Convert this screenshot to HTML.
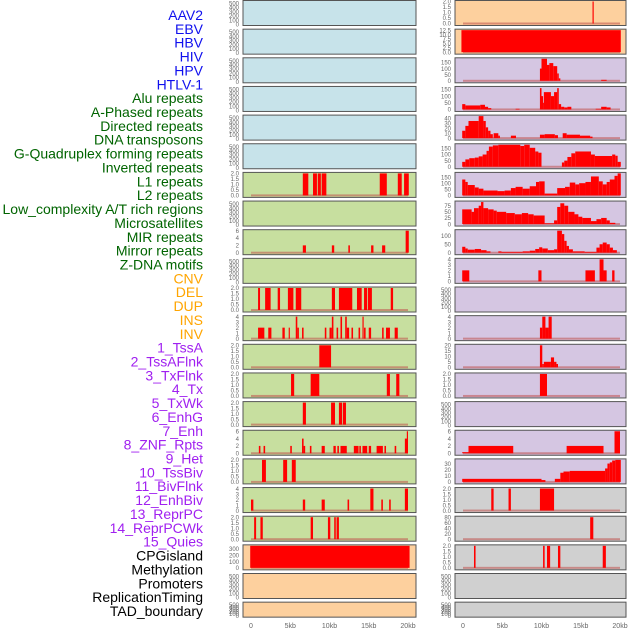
<!DOCTYPE html>
<html><head><meta charset="utf-8"><style>
body{margin:0;background:#fff;width:630px;height:630px;overflow:hidden}
svg{display:block;font-family:"Liberation Sans",sans-serif}
</style></head><body>
<svg id="chart" width="630" height="630" viewBox="0 0 630 630"></svg>
<script>
const labels=["AAV2","EBV","HBV","HIV","HPV","HTLV-1","Alu repeats","A-Phased repeats","Directed repeats","DNA transposons","G-Quadruplex forming repeats","Inverted repeats","L1 repeats","L2 repeats","Low_complexity A/T rich regions","Microsatellites","MIR repeats","Mirror repeats","Z-DNA motifs","CNV","DEL","DUP","INS","INV","1_TssA","2_TssAFlnk","3_TxFlnk","4_Tx","5_TxWk","6_EnhG","7_Enh","8_ZNF_Rpts","9_Het","10_TssBiv","11_BivFlnk","12_EnhBiv","13_ReprPC","14_ReprPCWk","15_Quies","CPGisland","Methylation","Promoters","ReplicationTiming","TAD_boundary"];
const xTicks=[0,5,10,15,20];
const xTickLabels=["0","5kb","10kb","15kb","20kb"];
const emptyTicks=[0,100,200,300,400,500];
// left column: [ymax, ticks, segments [startKb,endKb,value]]
const leftYmax=[0,0,0,0,0,0,2,0,6,0,2,4,2,2,2,6,2,4,2,350,0,0];
const leftTicks=[[],[],[],[],[],[],[0,0.5,1,1.5,2],[],[0,2,4,6],[],[0,0.5,1,1.5,2],[0,1,2,3,4],[0,0.5,1,1.5,2],[0,0.5,1,1.5,2],[0,0.5,1,1.5,2],[0,2,4,6],[0,0.5,1,1.5,2],[0,1,2,3,4],[0,0.5,1,1.5,2],[0,100,200,300],[],[]];
const leftSegs=[[],[],[],[],[],[],
[[6.6,7.3,2],[7.9,8.4,2],[8.5,8.9,2],[9.0,9.6,2],[16.4,17.3,2],[18.7,19.2,2],[19.5,20.1,2]],
[],
[[6.6,7.0,2],[10.3,10.6,2],[12.4,12.6,2],[15.3,15.6,2],[16.7,17.1,2],[19.7,20.1,6]],
[],
[[0.9,1.15,2],[1.8,2.5,2],[3.4,3.7,2],[4.7,5.4,2],[5.7,6.4,2],[10.3,10.7,2],[11.2,12.9,2],[13.5,14.1,2],[14.4,14.8,2],[14.9,15.4,2],[17.8,18.1,2]],
[[0.9,1.7,2],[2.2,2.6,2],[4.0,4.3,2],[4.8,4.95,2],[5.7,5.9,4],[5.9,6.1,2],[6.5,6.7,2],[9.4,9.6,2],[10.0,10.3,2],[10.3,10.5,4],[10.9,11.1,2],[11.4,11.6,4],[12.0,12.2,4],[12.2,12.5,2],[12.8,13.0,2],[13.7,13.9,2],[14.2,14.35,4],[14.4,14.6,2],[15.0,15.3,2],[16.7,16.9,2],[17.2,17.7,2],[18.3,18.7,2]],
[[8.7,10.2,2]],
[[5.1,5.5,2],[7.6,8.7,2],[17.3,17.7,2],[18.5,18.9,2]],
[[6.6,7.0,2],[10.2,10.7,2],[11.2,11.6,2],[11.7,12.1,2]],
[[1.0,1.2,2],[1.6,1.8,2],[5.0,5.2,2],[6.5,6.7,4],[6.7,6.9,2],[7.5,7.7,2],[9.0,9.4,2],[10.5,10.8,2],[11.0,11.2,2],[11.4,12.2,2],[13.1,13.7,2],[13.8,14.0,2],[14.2,14.8,2],[15.0,15.3,2],[16.0,16.8,2],[17.0,17.2,2],[18.3,18.5,2],[19.6,19.9,4],[19.85,20.0,6]],
[[1.4,1.9,2],[4.1,4.6,2],[5.2,5.7,2]],
[[0.0,0.3,2],[6.6,6.9,2],[9.0,9.4,2],[12.3,12.5,2],[15.2,15.6,4],[16.6,16.8,2],[17.6,17.8,2],[19.6,20.0,4]],
[[0.4,0.65,2],[1.2,1.5,2],[7.6,7.9,2],[9.8,10.1,2],[10.6,10.8,2],[10.9,11.2,2]],
[[-0.1,20.2,350]],
[],[]];
const rightYmax=[2,12.5,180,165,45,180,180,90,130,4,0,4,20,2,0,6,36,2,80,2,0,0];
const rightTicks=[[0,0.5,1,1.5,2],[0,2.5,5,7.5,10,12.5],[0,50,100,150],[0,50,100,150],[0,10,20,30,40],[0,50,100,150],[0,50,100,150],[0,25,50,75],[0,50,100],[0,1,2,3,4],[],[0,1,2,3,4],[0,5,10,15,20],[0,0.5,1,1.5,2],[],[0,2,4,6],[0,10,20,30],[0,0.5,1,1.5,2],[0,20,40,60,80],[0,0.5,1,1.5,2],[],[]];
const rightSegs=[
[[16.5,16.65,2]],
[[-0.2,20.1,12.5]],
[[9.8,10.0,100],[10.0,10.7,180],[10.7,11.0,130],[11.0,11.5,145],[11.5,12.0,120],[12.0,12.2,60],[12.2,12.4,20],[17.6,18.3,8]],
[[-0.1,0.3,40],[0.3,2.2,30],[2.2,2.8,35],[2.8,3.2,20],[3.2,3.6,10],[6.7,7.2,5],[9.8,10.0,160],[10.0,10.2,100],[10.2,10.3,50],[10.3,11.2,130],[11.2,11.6,100],[11.6,12.0,130],[12.0,12.2,160],[12.2,12.5,40],[12.5,12.9,20],[12.9,13.3,15],[13.3,13.8,20],[16.9,17.6,5],[17.6,18.3,20],[18.3,18.8,15]],
[[-0.1,0.3,15],[0.3,0.7,25],[0.7,2.0,35],[2.0,2.6,45],[2.6,2.9,35],[2.9,3.2,22],[3.2,3.5,15],[3.5,3.8,8],[3.9,4.5,10],[4.5,4.7,5],[6.1,6.75,5],[9.8,10.4,7],[10.4,11.7,8],[11.7,12.1,6],[12.7,13.2,10],[13.2,14.9,7],[14.9,16.2,5],[16.2,16.5,3]],
[[-0.1,0.3,40],[0.3,0.8,60],[0.8,1.5,70],[1.5,2.0,75],[2.0,2.5,85],[2.5,3.0,100],[3.0,3.3,130],[3.3,3.8,165],[3.8,4.5,175],[4.5,7.3,180],[7.3,7.8,170],[7.8,8.5,180],[8.5,9.2,155],[9.2,9.6,125],[9.6,10.0,115],[12.6,12.9,35],[12.9,13.3,50],[13.3,13.8,80],[13.8,14.3,110],[14.3,16.3,125],[16.3,16.8,100],[16.8,19.0,88],[19.0,19.4,100],[19.4,19.7,90],[19.7,20.1,40]],
[[-0.1,0.3,130],[0.3,0.6,110],[0.6,1.5,85],[1.5,2.0,65],[2.0,2.6,55],[2.6,4.4,40],[4.4,5.3,35],[5.3,6.1,40],[6.1,6.7,60],[6.7,7.6,70],[7.6,8.5,55],[8.5,9.3,75],[9.3,9.7,110],[9.7,10.4,115],[10.4,12.0,15],[12.0,13.0,60],[13.0,13.6,70],[13.6,14.3,105],[14.3,14.8,90],[14.8,15.6,100],[15.6,16.3,110],[16.3,17.3,155],[17.3,17.8,115],[17.8,18.3,90],[18.3,18.7,110],[18.7,19.3,130],[19.3,19.7,160],[19.7,20.1,180]],
[[-0.1,1.1,60],[1.1,1.4,50],[1.4,2.0,65],[2.0,2.3,75],[2.3,2.6,90],[2.6,3.2,65],[3.2,3.9,60],[3.9,4.3,55],[4.3,5.5,50],[5.5,6.6,45],[6.6,7.5,40],[7.5,8.3,45],[8.3,9.0,40],[9.0,10.4,35],[10.4,11.6,3],[11.6,12.0,15],[12.0,12.4,70],[12.4,12.9,85],[12.9,13.4,75],[13.4,14.2,50],[14.2,14.7,40],[14.7,15.2,30],[15.2,16.3,25],[16.3,17.0,12],[17.0,17.6,20],[17.6,18.3,25],[18.3,18.7,15],[18.7,19.4,5]],
[[-0.1,0.3,35],[0.3,0.6,25],[0.6,1.5,18],[1.5,2.3,22],[2.3,3.0,15],[3.0,3.5,8],[4.5,4.9,8],[4.9,7.6,5],[7.6,8.5,8],[8.5,9.2,12],[9.2,9.7,22],[9.7,10.1,32],[10.1,10.8,25],[10.8,11.6,15],[11.6,12.0,20],[12.0,12.6,130],[12.6,12.9,110],[12.9,13.2,70],[13.2,13.5,40],[13.5,14.0,20],[14.0,15.5,8],[15.5,17.0,5],[17.0,17.4,30],[17.4,17.8,50],[17.8,18.3,60],[18.3,18.7,50],[18.7,19.1,30],[19.1,19.6,15]],
[[-0.1,0.8,2],[9.6,10.0,2],[15.6,16.8,2],[17.4,17.9,4],[17.9,18.3,2],[19.0,19.3,2]],
[],
[[9.8,10.1,2],[10.1,10.5,4],[10.5,10.9,2],[10.9,11.3,4]],
[[9.8,10.1,20],[10.1,10.3,3],[10.3,11.2,5],[11.2,11.6,9],[11.6,11.9,5],[11.9,12.1,3]],
[[9.8,10.7,2]],
[],
[[-0.1,0.7,0.3],[0.7,6.4,2],[13.2,17.9,2],[19.3,20.0,6]],
[[-0.1,10.0,5],[10.0,10.5,3],[11.7,12.4,5],[12.4,12.8,15],[12.8,13.6,17],[13.6,18.1,18],[18.1,18.4,22],[18.4,18.7,30],[18.7,19.0,32],[19.0,19.4,35],[19.4,20.1,36]],
[[3.6,3.9,2],[5.8,6.1,2],[9.8,11.6,2]],
[[16.2,16.6,80]],
[[1.4,1.6,2],[10.2,10.4,2],[10.7,11.1,2],[12.1,12.4,2],[17.8,18.2,2]],
[],[]];
const labelColors=i=>i<6?"#1010ee":i<19?"#006400":i<24?"#ffa500":i<39?"#a020f0":"#000";
const leftBg=r=>r<6?"#c7e3ea":r<19?"#c7df9f":"#fdd09e";
const rightBg=r=>r<2?"#fdd09e":r<17?"#d5c6e2":"#d0d0d0";
const NS="http://www.w3.org/2000/svg";
const svg=document.getElementById("chart");
function mk(tag,attrs,parent){const e=document.createElementNS(NS,tag);for(const k in attrs)e.setAttribute(k,attrs[k]);(parent||svg).appendChild(e);return e;}
const colX=[{x0:243,x1:416,z:251,tx:239},{x0:455,x1:626,z:463,tx:451}];
const pxPerKb=7.85;
function xScale(col,kb){return colX[col].z+kb*pxPerKb;}
function rowTop(r){return 0.5+r*28.65;}
function rowH(r){return r===21?15:25;}
function yScale(r,v,ymax){const t=rowTop(r),h=rowH(r);return t+h-2-(v/ymax)*(h-3);}
// labels
labels.forEach((l,i)=>{const t=mk("text",{x:203,y:20+i*13.86,"text-anchor":"end","font-size":"14",fill:labelColors(i)});t.textContent=l;

});
function drawPanel(col,r,ymax,ticks,segs,bg){
const g=mk("g",{});


const t=rowTop(r),h=rowH(r),c=colX[col];
mk("rect",{x:c.x0,y:t,width:c.x1-c.x0,height:h,fill:bg,stroke:"#555","stroke-width":1},g);
if(ymax>0){
 const base=mk("rect",{x:xScale(col,0),y:yScale(r,0,ymax)-1,width:20*pxPerKb,height:2,fill:"#c0504d",opacity:0.55},g);
 
 
 segs.forEach(s=>{const x1=xScale(col,s[0]),x2=xScale(col,s[1]);const y=yScale(r,s[2],ymax);
  const b=mk("rect",{x:x1,y:y,width:Math.max(1,x2-x1),height:yScale(r,0,ymax)-y,fill:"#ff0000"},g);
  
  });
 ticks.forEach(v=>{const tt=mk("text",{x:c.tx,y:yScale(r,v,ymax)+2.2,"text-anchor":"end","font-size":"6",fill:"#666"},g);tt.textContent=(ticks.some(q=>q%1)?v.toFixed(1):String(v));
  
  });
}else{
 emptyTicks.forEach(v=>{const tt=mk("text",{x:c.tx,y:t+h-1-(v/500)*(h-4)+2,"text-anchor":"end","font-size":"6",fill:"#666"},g);tt.textContent=String(v);
  
  });
}}
for(let r=0;r<22;r++){drawPanel(0,r,leftYmax[r],leftTicks[r],leftSegs[r],leftBg(r));drawPanel(1,r,rightYmax[r],rightTicks[r],rightSegs[r],rightBg(r));}
[0,1].forEach(col=>xTicks.forEach((v,i)=>{const tt=mk("text",{x:xScale(col,v),y:628,"text-anchor":"middle","font-size":"7",fill:"#666"});tt.textContent=xTickLabels[i];

}));
</script>
</body></html>
